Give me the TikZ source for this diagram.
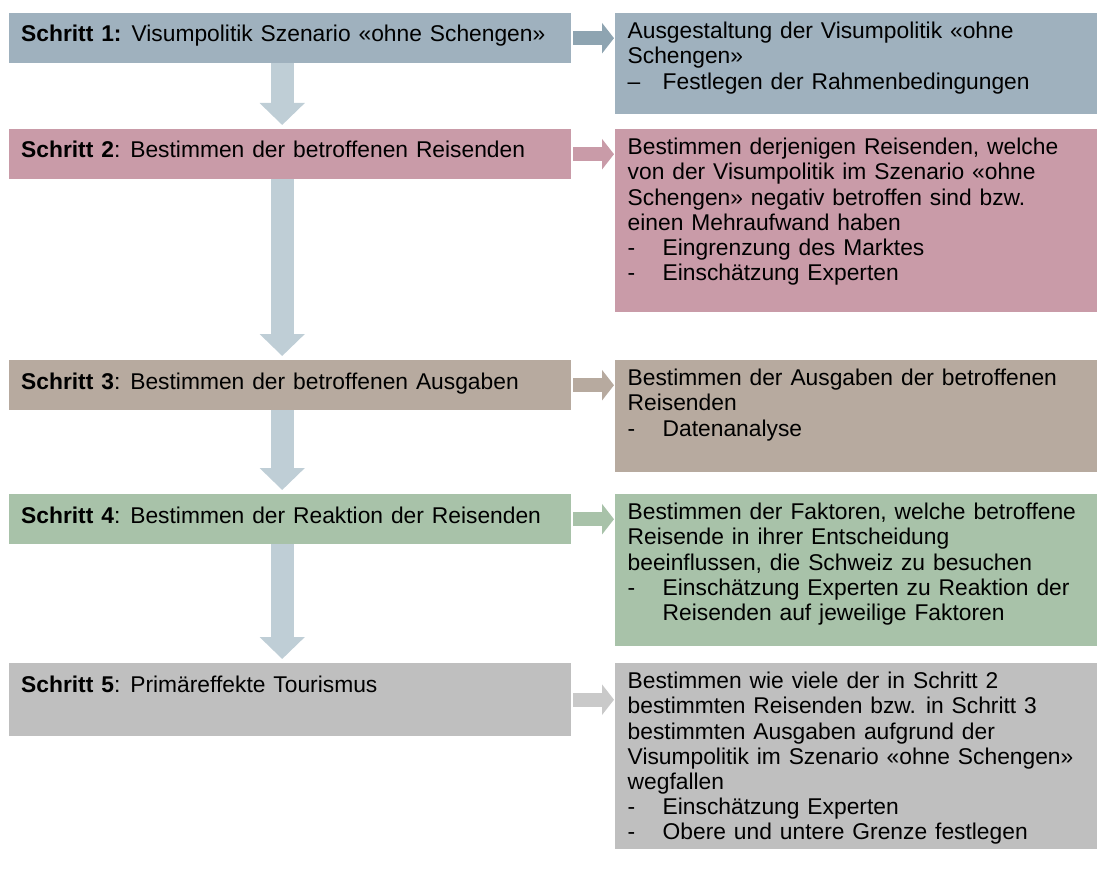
\documentclass[tikz,border=0pt]{standalone}
\usepackage{fontspec}
\setmainfont{Liberation Sans}[WordSpace=1.25]
\usetikzlibrary{arrows.meta}
\usetikzlibrary{positioning}

\definecolor{blaugrau}{HTML}{9FB1BE}
\definecolor{blaupfeil}{HTML}{8EA4B1}
\definecolor{hellblau}{HTML}{BFCED6}
\definecolor{altrosa}{HTML}{C99BA8}
\definecolor{taupe}{HTML}{B7AA9F}
\definecolor{salbei}{HTML}{A8C2A9}
\definecolor{grau}{HTML}{BFBFBF}
\definecolor{grauhell}{HTML}{C9C9C9}

\newcommand{\pkt}[1]{\makebox[35pt][l]{#1}}

\begin{document}
\begin{tikzpicture}[x=1pt,y=-1pt,
  box/.style={rectangle,inner sep=0pt,anchor=north west},
  links/.style={box,minimum width=562pt},
  rechts/.style={box,minimum width=482pt},
  titel/.style={anchor=base west,inner sep=0pt,font=\fontsize{22.8}{25.2}\selectfont},
  txt/.style={anchor=north west,inner sep=0pt,align=left,font=\fontsize{22.8}{25.2}\selectfont},
  pfeil/.style={line width=14pt,-{Triangle[length=12pt,width=30pt]},shorten <=2pt,shorten >=1pt},
  runter/.style={hellblau,line width=23pt,-{Triangle[length=22pt,width=44pt]},shorten >=4pt}]
\useasboundingbox (0,0) rectangle (1105,877);

\node[links,fill=blaugrau,minimum height=50pt] (s1) at (9,13) {};
\node[links,fill=altrosa,minimum height=50pt] (s2) at (9,129) {};
\node[links,fill=taupe,minimum height=50pt] (s3) at (9,360) {};
\node[links,fill=salbei,minimum height=50pt] (s4) at (9,494) {};
\node[links,fill=grau,minimum height=73pt] (s5) at (9,663) {};

\node[rechts,fill=blaugrau,minimum height=101pt] (r1) at (615,13) {};
\node[rechts,fill=altrosa,minimum height=183pt] (r2) at (615,129) {};
\node[rechts,fill=taupe,minimum height=112pt] (r3) at (615,360) {};
\node[rechts,fill=salbei,minimum height=152pt] (r4) at (615,494) {};
\node[rechts,fill=grau,minimum height=186pt] (r5) at (615,663) {};

\node[titel] (k1) at ([xshift=12pt,yshift=-29pt]s1.north west) {\textbf{Schritt 1:} Visumpolitik Szenario «ohne Schengen»};
\node[titel] (k2) at ([xshift=12pt,yshift=-29pt]s2.north west) {\textbf{Schritt 2}: Bestimmen der betroffenen Reisenden};
\node[titel] (k3) at ([xshift=12pt,yshift=-29pt]s3.north west) {\textbf{Schritt 3}: Bestimmen der betroffenen Ausgaben};
\node[titel] (k4) at ([xshift=12pt,yshift=-29pt]s4.north west) {\textbf{Schritt 4}: Bestimmen der Reaktion der Reisenden};
\node[titel] (k5) at ([xshift=12pt,yshift=-29pt]s5.north west) {\textbf{Schritt 5}: Primäreffekte Tourismus};

\node[txt] (b1) at ([xshift=12.5pt,yshift=-9pt]r1.north west) {Ausgestaltung der Visumpolitik «ohne\\Schengen»\\\pkt{–}Festlegen der Rahmenbedingungen};
\node[txt] (b2) at ([xshift=12.5pt,yshift=-9pt]r2.north west) {Bestimmen derjenigen Reisenden, welche\\von der Visumpolitik im Szenario «ohne\\Schengen» negativ betroffen sind bzw.\\einen Mehraufwand haben\\\pkt{-}Eingrenzung des Marktes\\\pkt{-}Einschätzung Experten};
\node[txt] (b3) at ([xshift=12.5pt,yshift=-9pt]r3.north west) {Bestimmen der Ausgaben der betroffenen\\Reisenden\\\pkt{-}Datenanalyse};
\node[txt] (b4) at ([xshift=12.5pt,yshift=-9pt]r4.north west) {Bestimmen der Faktoren, welche betroffene\\Reisende in ihrer Entscheidung\\beeinflussen, die Schweiz zu besuchen\\\pkt{-}Einschätzung Experten zu Reaktion der\\\pkt{}Reisenden auf jeweilige Faktoren};
\node[txt] (b5) at ([xshift=12.5pt,yshift=-9pt]r5.north west) {Bestimmen wie viele der in Schritt 2\\bestimmten Reisenden bzw. in Schritt 3\\bestimmten Ausgaben aufgrund der\\Visumpolitik im Szenario «ohne Schengen»\\wegfallen\\\pkt{-}Einschätzung Experten\\\pkt{-}Obere und untere Grenze festlegen};

\draw[runter] ([xshift=-8pt]s1.south) -- ([xshift=-8pt]s2.north);
\draw[runter] ([xshift=-8pt]s2.south) -- ([xshift=-8pt]s3.north);
\draw[runter] ([xshift=-8pt]s3.south) -- ([xshift=-8pt]s4.north);
\draw[runter] ([xshift=-8pt]s4.south) -- ([xshift=-8pt]s5.north);

\draw[pfeil,blaupfeil] (s1.east) -- (s1.east -| r1.west);
\draw[pfeil,altrosa] (s2.east) -- (s2.east -| r2.west);
\draw[pfeil,taupe] (s3.east) -- (s3.east -| r3.west);
\draw[pfeil,salbei] (s4.east) -- (s4.east -| r4.west);
\draw[pfeil,grauhell] (s5.east) -- (s5.east -| r5.west);
\end{tikzpicture}
\end{document}
